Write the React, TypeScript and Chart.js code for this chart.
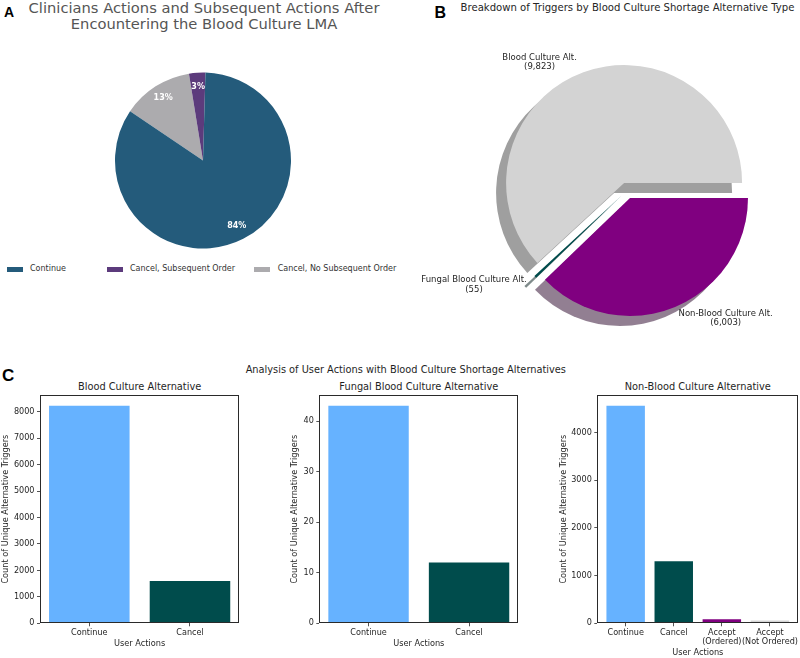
import React, { useEffect, useRef } from 'react';
import { Chart, registerables } from 'chart.js';

Chart.register(...registerables);

const SANS = '"DejaVu Sans", sans-serif';
const LETTER = '"Liberation Sans", Arial, sans-serif';
const INK = '#1f1f1f';

// A: what clinicians did after the LMA fired (share of encounters, %)
const lmaActions = ['Continue', 'Cancel, Subsequent Order', 'Cancel, No Subsequent Order'];
const lmaShares = [84, 3, 13];
const lmaColors = ['#245b7b', '#5c3b7c', '#acabae'];

// B: alternative triggers by type
const altTypes = ['Blood Culture Alt.', 'Fungal Blood Culture Alt.', 'Non-Blood Culture Alt.'];
const altTriggers = [9823, 55, 6003];
const altColors = ['#d3d3d3', '#004c4c', '#800080'];

// C: user actions for each alternative type
const bloodActions = ['Continue', 'Cancel'];
const bloodCounts = [8225, 1598];
const bloodTicks = [0, 1000, 2000, 3000, 4000, 5000, 6000, 7000, 8000];

const fungalActions = ['Continue', 'Cancel'];
const fungalCounts = [43, 12];
const fungalTicks = [0, 10, 20, 30, 40];

const nonBloodActions: (string | string[])[] = ['Continue', 'Cancel', ['Accept', '(Ordered)'], ['Accept', '(Not Ordered)']];
const nonBloodCounts = [4560, 1300, 83, 60];
const nonBloodTicks = [0, 1000, 2000, 3000, 4000];

const actionColors = ['#66b2ff', '#004c4c', '#800080', '#d3d3d3'];

function arcGeom(el: any) {
  return el.getProps(['x', 'y', 'startAngle', 'endAngle', 'outerRadius'], true);
}

// white percentage labels inside the wedges
const pctLabels = {
  id: 'pctLabels',
  afterDatasetsDraw(chart: any) {
    const { ctx } = chart;
    const meta = chart.getDatasetMeta(0);
    const values = chart.data.datasets[0].data as number[];
    ctx.save();
    ctx.font = `bold 8px ${SANS}`;
    ctx.fillStyle = '#ffffff';
    ctx.textAlign = 'center';
    ctx.textBaseline = 'middle';
    meta.data.forEach((el: any, i: number) => {
      const { x, y, startAngle, endAngle, outerRadius } = arcGeom(el);
      const mid = (startAngle + endAngle) / 2;
      const d = outerRadius * 0.84;
      ctx.fillText(`${values[i]}%`, x + Math.cos(mid) * d, y + Math.sin(mid) * d);
    });
    ctx.restore();
  },
};

function shadowOf(hex: string) {
  const n = parseInt(hex.slice(1), 16);
  const r = (n >> 16) & 255, g = (n >> 8) & 255, b = n & 255;
  return `rgba(${Math.round(r * 0.3)},${Math.round(g * 0.3)},${Math.round(b * 0.3)},0.5)`;
}

// exploded wedges with a drop shadow and outside labels
const EXPLODE = 8;
const SHADOW_DX = -10;
const SHADOW_DY = 10;
const explodedPie = {
  id: 'explodedPie',
  beforeDatasetsDraw(chart: any) {
    const { ctx } = chart;
    const meta = chart.getDatasetMeta(0);
    const ds = chart.data.datasets[0];
    const labels = chart.data.labels as string[];
    const wedges = meta.data.map((el: any, i: number) => {
      const { x, y, startAngle, endAngle, outerRadius } = arcGeom(el);
      const mid = (startAngle + endAngle) / 2;
      return {
        cx: x + Math.cos(mid) * EXPLODE,
        cy: y + Math.sin(mid) * EXPLODE,
        r: outerRadius,
        s: startAngle,
        e: endAngle,
        mid,
        color: ds.backgroundColor[i] as string,
        label: labels[i],
        value: ds.data[i] as number,
      };
    });
    const wedgePath = (w: any, dx: number, dy: number) => {
      ctx.beginPath();
      ctx.moveTo(w.cx + dx, w.cy + dy);
      ctx.arc(w.cx + dx, w.cy + dy, w.r, w.s, w.e);
      ctx.closePath();
    };
    ctx.save();
    wedges.forEach((w: any) => {
      wedgePath(w, SHADOW_DX, SHADOW_DY);
      ctx.fillStyle = shadowOf(w.color);
      ctx.fill();
    });
    wedges.forEach((w: any) => {
      wedgePath(w, 0, 0);
      ctx.fillStyle = w.color;
      ctx.fill();
    });
    ctx.font = `8.5px ${SANS}`;
    ctx.fillStyle = INK;
    ctx.textAlign = 'center';
    ctx.textBaseline = 'middle';
    const gap = 9.6;
    wedges.forEach((w: any) => {
      const lines = [w.label, `(${w.value.toLocaleString('en-US')})`];
      const bw = Math.max(...lines.map((t) => ctx.measureText(t).width));
      const lx = w.cx + Math.cos(w.mid) * w.r * 1.1;
      const ly = w.cy + Math.sin(w.mid) * w.r * 1.1;
      const bx = Math.cos(w.mid) < 0 ? lx - bw / 2 : lx + bw / 2;
      lines.forEach((t, k) => {
        ctx.fillText(t, bx, ly + (k - (lines.length - 1) / 2) * gap);
      });
    });
    ctx.restore();
    return false;
  },
};

// full axes box like a classic plot frame
const axesFrame = {
  id: 'axesFrame',
  afterDraw(chart: any) {
    const { ctx, chartArea: a } = chart;
    ctx.save();
    ctx.strokeStyle = '#2a2a2a';
    ctx.lineWidth = 1;
    const l = Math.round(a.left) + 0.5;
    const t = Math.round(a.top) + 0.5;
    const r = Math.round(a.right) - 0.5;
    const b = Math.round(a.bottom) - 0.5;
    ctx.strokeRect(l, t, r - l, b - t);
    ctx.restore();
  },
};

type BarLayout = { padLeft: number; padRight: number; padBottom: number; yWidth: number; xHeight: number };

function barConfig(cats: (string | string[])[], counts: number[], ticks: number[], lay: BarLayout): any {
  const n = cats.length;
  const margin = 0.05 * (n - 1 + 0.8);
  const tickFont = { family: SANS, size: 8.1, lineHeight: 1.11 };
  const titleFont = { family: SANS, size: 8.2 };
  const grid = { drawOnChartArea: false, drawTicks: true, tickLength: 3, color: '#2a2a2a', lineWidth: 0.8, offset: false };
  return {
    type: 'bar',
    data: {
      datasets: [
        {
          data: counts.map((v, i) => ({ x: i, y: v })),
          backgroundColor: actionColors.slice(0, n),
          borderWidth: 0,
          barPercentage: 0.8,
          categoryPercentage: 1,
        },
      ],
    },
    options: {
      animation: false,
      responsive: false,
      events: [],
      layout: { padding: { left: lay.padLeft, right: lay.padRight, top: 15, bottom: lay.padBottom } },
      plugins: { legend: { display: false }, tooltip: { enabled: false } },
      scales: {
        x: {
          type: 'linear',
          offset: false,
          min: -0.4 - margin,
          max: n - 0.6 + margin,
          afterBuildTicks: (s: any) => {
            s.ticks = cats.map((_, i) => ({ value: i }));
          },
          afterFit: (s: any) => {
            s.height = lay.xHeight;
            s.paddingLeft = 0;
            s.paddingRight = 0;
          },
          ticks: {
            callback: (v: number) => cats[v],
            font: tickFont,
            color: INK,
            padding: 2,
            maxRotation: 0,
            minRotation: 0,
            autoSkip: false,
          },
          grid,
          border: { display: false },
          title: { display: true, text: 'User Actions', font: titleFont, color: INK, padding: 0 },
        },
        y: {
          type: 'linear',
          min: 0,
          max: Math.max(...counts) * 1.05,
          afterBuildTicks: (s: any) => {
            s.ticks = ticks.map((v) => ({ value: v }));
          },
          afterFit: (s: any) => {
            s.width = lay.yWidth;
            s.paddingTop = 0;
            s.paddingBottom = 0;
          },
          ticks: { font: tickFont, color: INK, padding: 2.5, callback: (v: number) => String(v) },
          grid,
          border: { display: false },
          title: { display: true, text: 'Count of Unique Alternative Triggers', font: titleFont, color: INK, padding: 0 },
        },
      },
    },
    plugins: [axesFrame],
  };
}

function lmaPieConfig(): any {
  return {
    type: 'pie',
    data: {
      labels: [...lmaActions].reverse(),
      datasets: [{ data: [...lmaShares].reverse(), backgroundColor: [...lmaColors].reverse(), borderWidth: 0 }],
    },
    options: {
      animation: false,
      responsive: false,
      events: [],
      rotation: -56,
      radius: 88,
      layout: { padding: 0 },
      plugins: { legend: { display: false }, tooltip: { enabled: false } },
    },
    plugins: [pctLabels],
  };
}

function altPieConfig(): any {
  return {
    type: 'pie',
    data: {
      labels: [...altTypes].reverse(),
      datasets: [{ data: [...altTriggers].reverse(), backgroundColor: [...altColors].reverse(), borderWidth: 0 }],
    },
    options: {
      animation: false,
      responsive: false,
      events: [],
      rotation: 90,
      radius: 118,
      layout: { padding: { left: 107, right: 53, top: 40.5, bottom: 29.5 } },
      plugins: { legend: { display: false }, tooltip: { enabled: false } },
    },
    plugins: [explodedPie],
  };
}

function ChartBox({ left, top, width, height, make }: { left: number; top: number; width: number; height: number; make: () => any }) {
  const ref = useRef<HTMLCanvasElement>(null);
  useEffect(() => {
    const chart = new Chart(ref.current as HTMLCanvasElement, make());
    return () => chart.destroy();
  }, []);
  return (
    <div style={{ position: 'absolute', left, top, width, height }}>
      <canvas ref={ref} width={width} height={height} style={{ width, height, display: 'block' }} />
    </div>
  );
}

function Text({ x, y, size, children, anchor = 'center', bold = false, color = INK, family = SANS }: any) {
  return (
    <div
      style={{
        position: 'absolute',
        left: x,
        top: y - size / 2,
        fontSize: size,
        lineHeight: `${size}px`,
        fontFamily: family,
        fontWeight: bold ? 700 : 400,
        color,
        whiteSpace: 'nowrap',
        transform: anchor === 'center' ? 'translateX(-50%)' : undefined,
      }}
    >
      {children}
    </div>
  );
}

const legendSlots = [
  { sw: 7.3, tx: 30 },
  { sw: 106.7, tx: 130 },
  { sw: 254.3, tx: 277.7 },
];

export default function App() {
  return (
    <div style={{ position: 'fixed', left: 0, top: 0, width: 800, height: 658, background: '#ffffff', overflow: 'hidden', fontFamily: SANS }}>
      {/* panel A */}
      <Text x={4} y={12} size={14} anchor="left" bold family={LETTER} color="#000">A</Text>
      <Text x={204} y={8} size={14.7} color="#555555">Clinicians Actions and Subsequent Actions After</Text>
      <Text x={204} y={24.4} size={14.7} color="#555555">Encountering the Blood Culture LMA</Text>
      <ChartBox left={103} top={60} width={200} height={201} make={lmaPieConfig} />
      {lmaActions.map((name, i) => (
        <React.Fragment key={name}>
          <div style={{ position: 'absolute', left: legendSlots[i].sw, top: 266.8, width: 16, height: 5, background: lmaColors[i] }} />
          <Text x={legendSlots[i].tx} y={269.3} size={8} anchor="left" color="#333333">{name}</Text>
        </React.Fragment>
      ))}

      {/* panel B */}
      <Text x={434.5} y={12.5} size={16} anchor="left" bold family={LETTER} color="#000">B</Text>
      <Text x={627.5} y={8} size={10.1} color="#262626">Breakdown of Triggers by Blood Culture Shortage Alternative Type</Text>
      <ChartBox left={400} top={30} width={400} height={310} make={altPieConfig} />

      {/* panel C */}
      <Text x={2} y={375.5} size={17} anchor="left" bold family={LETTER} color="#000">C</Text>
      <Text x={405.8} y={370} size={9.8}>Analysis of User Actions with Blood Culture Shortage Alternatives</Text>
      <Text x={139.6} y={387.3} size={9.8}>Blood Culture Alternative</Text>
      <Text x={418.8} y={387.3} size={9.8}>Fungal Blood Culture Alternative</Text>
      <Text x={697.8} y={387.3} size={9.8}>Non-Blood Culture Alternative</Text>
      <ChartBox
        left={0}
        top={380}
        width={250}
        height={278}
        make={() => barConfig(bloodActions, bloodCounts, bloodTicks, { padLeft: 1, padRight: 10.7, padBottom: 9.2, yWidth: 39, xHeight: 25.5 })}
      />
      <ChartBox
        left={270}
        top={380}
        width={260}
        height={278}
        make={() => barConfig(fungalActions, fungalCounts, fungalTicks, { padLeft: 20.2, padRight: 11.7, padBottom: 9.2, yWidth: 29.1, xHeight: 25.5 })}
      />
      <ChartBox
        left={540}
        top={380}
        width={260}
        height={278}
        make={() => barConfig(nonBloodActions, nonBloodCounts, nonBloodTicks, { padLeft: 18.9, padRight: 1.7, padBottom: 0, yWidth: 38.4, xHeight: 34.7 })}
      />
    </div>
  );
}
